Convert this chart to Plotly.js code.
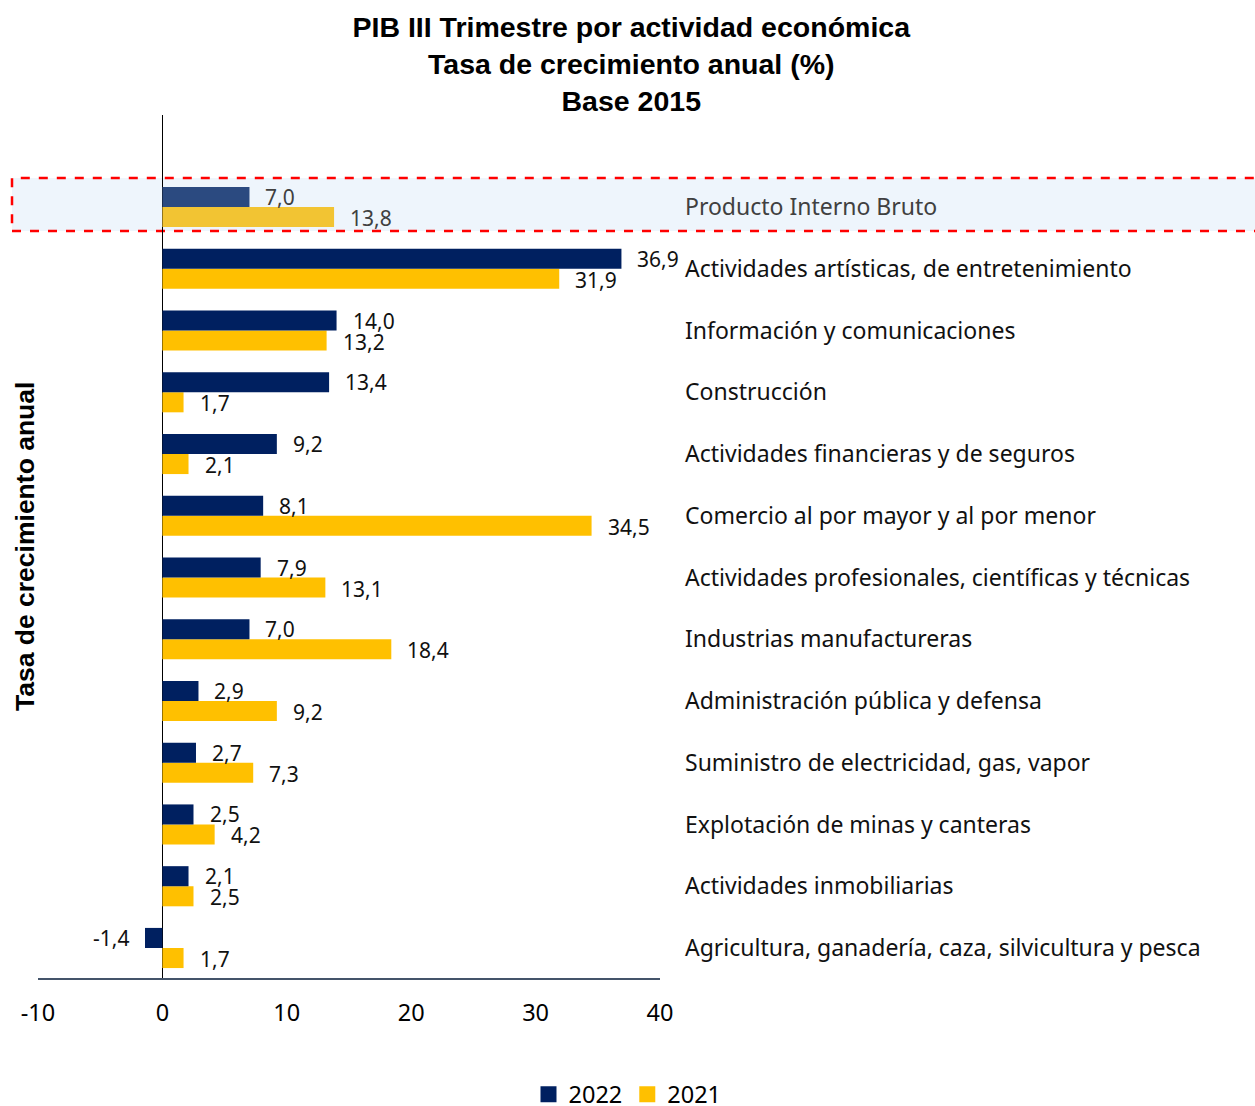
<!DOCTYPE html>
<html>
<head>
<meta charset="utf-8">
<script src="https://cdn.plot.ly/plotly-3.0.1.min.js"></script>
<style>html,body{margin:0;padding:0;background:#fff;}#chart{width:1255px;height:1106px;}</style>
</head>
<body>
<div id="chart"></div>
<script>
// Categories from top to bottom
const categories = [
  "Producto Interno Bruto",
  "Actividades artísticas, de entretenimiento",
  "Información y comunicaciones",
  "Construcción",
  "Actividades financieras y de seguros",
  "Comercio al por mayor y al por menor",
  "Actividades profesionales, científicas y técnicas",
  "Industrias manufactureras",
  "Administración pública y defensa",
  "Suministro de electricidad, gas, vapor",
  "Explotación de minas y canteras",
  "Actividades inmobiliarias",
  "Agricultura, ganadería, caza, silvicultura y pesca"
];
const values2022 = [7.0, 36.9, 14.0, 13.4, 9.2, 8.1, 7.9, 7.0, 2.9, 2.7, 2.5, 2.1, -1.4];
const values2021 = [13.8, 31.9, 13.2, 1.7, 2.1, 34.5, 13.1, 18.4, 9.2, 7.3, 4.2, 2.5, 1.7];
const xTickVals = [-10, 0, 10, 20, 30, 40];
const seriesNames = ["2022", "2021"];

const NAVY = "#002060", GOLD = "#FFC000";
const NAVY_HL = "#2B4A80", GOLD_HL = "#F2C433";
const FONT = "Noto Sans, DejaVu Sans, sans-serif";
const ARIAL = "Liberation Sans, Arial, sans-serif";

const fmt = v => v.toFixed(1).replace(".", ",");
const n = categories.length;
// numeric positions: top category gets highest index
const pos = categories.map((c, i) => n - 1 - i);

const trace2021 = {
  type: "bar", orientation: "h", name: seriesNames[1],
  x: values2021, y: pos,
  marker: {color: categories.map((c, i) => i === 0 ? GOLD_HL : GOLD)},
  showlegend: false, hoverinfo: "x+name"
};
const trace2022 = {
  type: "bar", orientation: "h", name: seriesNames[0],
  x: values2022, y: pos,
  marker: {color: categories.map((c, i) => i === 0 ? NAVY_HL : NAVY)},
  showlegend: false, hoverinfo: "x+name"
};
// legend-only entries with larger square swatches
const leg2022 = {type: "scatter", mode: "markers", name: seriesNames[0], x: [null], y: [null],
  marker: {symbol: "square", size: 16, color: NAVY}, legendrank: 1, hoverinfo: "skip"};
const leg2021 = {type: "scatter", mode: "markers", name: seriesNames[1], x: [null], y: [null],
  marker: {symbol: "square", size: 16, color: GOLD}, legendrank: 2, hoverinfo: "skip"};

const annotations = [];
function addLabels(vals, yshift) {
  vals.forEach((v, i) => {
    annotations.push({
      x: v, y: pos[i], xref: "x", yref: "y",
      text: fmt(v), showarrow: false,
      xanchor: v >= 0 ? "left" : "right",
      xshift: v >= 0 ? 14 : -14, yshift: yshift,
      font: {family: FONT, size: 21, color: i === 0 ? "#404040" : "#111111"}
    });
  });
}
addLabels(values2022, 10);
addLabels(values2021, -11);

annotations.push({
  text: "<b>Tasa de crecimiento anual</b>",
  xref: "paper", yref: "paper", x: -0.0209, y: 0.4994,
  textangle: -90, showarrow: false, xanchor: "center", yanchor: "middle",
  font: {family: ARIAL, size: 26.5, color: "#000"}
});

const layout = {
  width: 1255, height: 1106,
  margin: {l: 38, r: 595, t: 115, b: 128},
  paper_bgcolor: "#fff", plot_bgcolor: "rgba(0,0,0,0)",
  title: {
    text: "<b>PIB III Trimestre por actividad económica<br>Tasa de crecimiento anual (%)<br>Base 2015</b>",
    x: 0.503, xanchor: "center", y: 0.9665, yanchor: "top",
    font: {family: ARIAL, size: 28.5, color: "#000"}
  },
  barmode: "group", bargap: 0.35, bargroupgap: 0,
  xaxis: {
    range: [-10, 40], tickvals: xTickVals, ticktext: xTickVals.map(String),
    showgrid: false, zeroline: true, zerolinecolor: "#000", zerolinewidth: 1,
    showline: true, linecolor: "#44546A", linewidth: 1.5,
    ticks: "", ticklabelstandoff: 13,
    tickfont: {family: FONT, size: 23.5, color: "#000"}
  },
  yaxis: {
    range: [-0.486, 13.49], side: "right",
    tickvals: pos,
    ticktext: categories.map((c, i) => i === 0 ? '<span style="color:#404040">' + c + '</span>' : c),
    showgrid: false, zeroline: false, showline: false, ticks: "",
    ticklabelstandoff: 24,
    tickfont: {family: FONT, size: 23, color: "#111"}
  },
  showlegend: true,
  legend: {
    orientation: "h", x: 0.5, xref: "container", xanchor: "center",
    y: 0.0105, yref: "container", yanchor: "middle",
    font: {family: FONT, size: 23.5, color: "#000"}, itemwidth: 30, tracegroupgap: 0
  },
  shapes: [{
    type: "rect", layer: "below",
    xref: "paper", yref: "y",
    x0: -0.0418, x1: 1.97, y0: 11.61, y1: 12.47,
    fillcolor: "#EEF5FC",
    line: {color: "#FF0000", width: 2.5, dash: "dash"}
  }],
  annotations: annotations
};

Plotly.newPlot("chart", [trace2021, trace2022, leg2022, leg2021], layout, {displayModeBar: false, responsive: false});
</script>
</body>
</html>
